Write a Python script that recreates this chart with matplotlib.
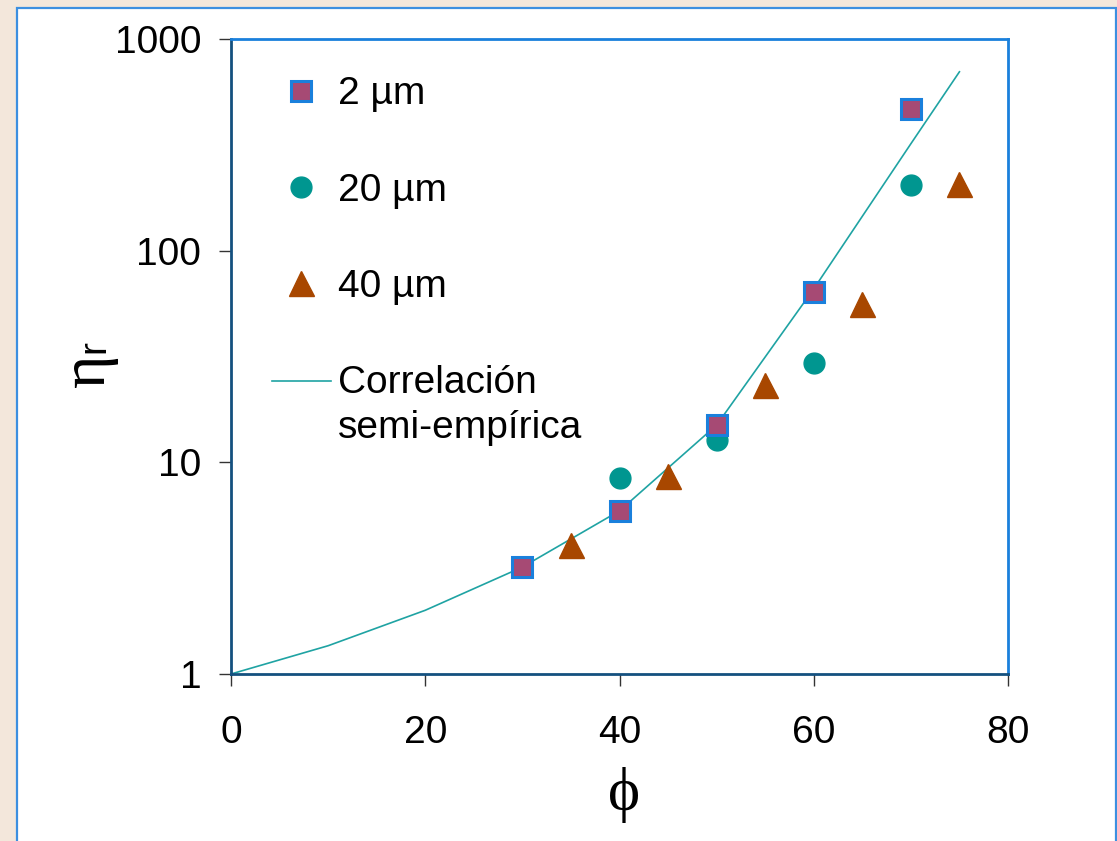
import matplotlib.pyplot as plt
import numpy as np
from matplotlib.patches import Rectangle

plt.rcParams['font.family'] = ['Liberation Sans', 'DejaVu Sans']

# relative viscosity vs. solid fraction, three particle sizes
phi_2 = [30, 40, 50, 60, 70]
eta_2 = [3.2, 5.9, 15.0, 64, 467]

phi_20 = [40, 50, 60, 70]
eta_20 = [8.4, 12.7, 29.4, 204]

phi_40 = [35, 45, 55, 65, 75]
eta_40 = [4.07, 8.6, 23.2, 56, 206]

# semi-empirical correlation
phi_corr = [0, 10, 20, 30, 40, 50, 60, 70, 75]
eta_corr = [1.0, 1.36, 2.0, 3.2, 5.9, 15.0, 66, 320, 700]

x_ticks = [0, 20, 40, 60, 80]
y_ticks = [1, 10, 100, 1000]

W, H = 1117, 841
fig = plt.figure(figsize=(W / 100, H / 100), dpi=100)
fig.patch.set_facecolor('#f3e7db')

# white slide panel with blue border
panel = Rectangle((17 / W, -0.02), 1099 / W, 1 - 8 / H + 0.02,
                  transform=fig.transFigure, facecolor='white',
                  edgecolor='#3c8fe0', linewidth=1.6, zorder=-10)
fig.patches.append(panel)

ax = fig.add_axes([231 / W, 1 - 674 / H, 777 / W, 635 / H])
ax.set_facecolor('white')

ax.plot(phi_corr, eta_corr, color='#1fa3a3', linewidth=1.2,
        label='Correlación\nsemi-empírica', zorder=2)
ax.plot(phi_2, eta_2, linestyle='none', marker='s', markersize=14,
        markerfacecolor='#a64a74', markeredgecolor='#1a80dc',
        markeredgewidth=2.2, label='2 µm', zorder=4)
ax.plot(phi_20, eta_20, linestyle='none', marker='o', markersize=15,
        color='#009690', label='20 µm', zorder=3)
ax.plot(phi_40, eta_40, linestyle='none', marker='^', markersize=18,
        color='#a84700', label='40 µm', zorder=3)

ax.set_yscale('log')
ax.set_xlim(0, 80)
ax.set_ylim(1, 1000)
ax.set_xticks(x_ticks)
ax.set_xticklabels([str(v) for v in x_ticks])
ax.set_yticks(y_ticks)
ax.set_yticklabels([str(v) for v in y_ticks])
ax.minorticks_off()
ax.tick_params(axis='both', direction='out', length=8.5, width=1,
               color='#333333', labelsize=28)
ax.tick_params(axis='x', pad=21)
ax.tick_params(axis='y', pad=13)

for side in ['top', 'right']:
    ax.spines[side].set_color('#1a80dc')
    ax.spines[side].set_linewidth(2)
for side in ['left', 'bottom']:
    ax.spines[side].set_color('#14507f')
    ax.spines[side].set_linewidth(2)

# axis titles: upright serif Greek, sans subscript
serif = ['Liberation Serif', 'DejaVu Serif']
fig.text(624 / W, 1 - 810 / H, 'ϕ', family=serif, fontsize=44,
         ha='center', va='baseline')
fig.text(104 / W, 1 - 370 / H, 'η', family=serif, fontsize=46,
         rotation=90, rotation_mode='anchor', ha='center', va='baseline')
fig.text(104 / W, 1 - 346 / H, 'r', fontsize=28,
         rotation=90, rotation_mode='anchor', ha='center', va='baseline')

handles, labels = ax.get_legend_handles_labels()
order = [1, 2, 3, 0]
leg = ax.legend([handles[i] for i in order], [labels[i] for i in order],
                loc='upper left', bbox_to_anchor=(0.053, 0.941),
                frameon=False, fontsize=28, numpoints=1,
                handlelength=1.5, handletextpad=0.2, labelspacing=1.55,
                borderpad=0, borderaxespad=0)
leg.get_texts()[-1].set_linespacing(1.32)
# put the correlation line next to the first text line
corr = leg.legend_handles[-1]
corr.set_ydata(np.asarray(corr.get_ydata()) + 18)

fig.savefig('out.png', dpi=100, facecolor=fig.get_facecolor())
